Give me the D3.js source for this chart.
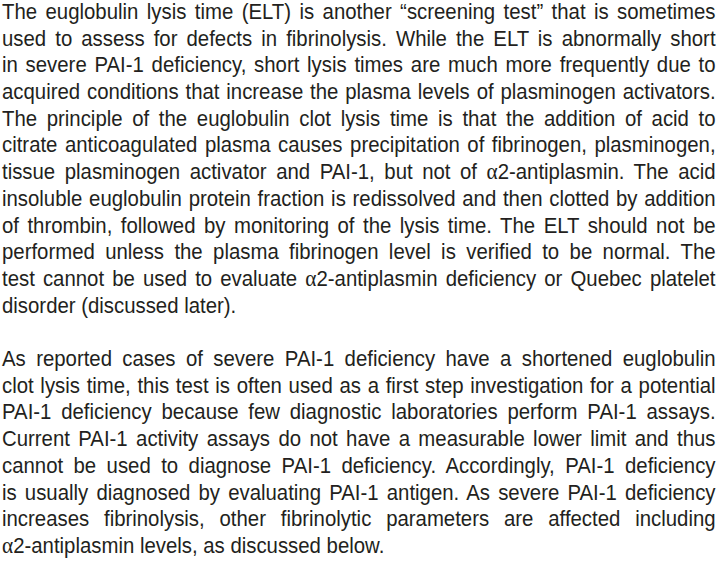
<!DOCTYPE html>
<html>
<head>
<meta charset="utf-8">
<script src="https://cdn.jsdelivr.net/npm/d3@7"></script>
<style>
  body { margin: 0; background: #fff; }
  svg { display: block; }
</style>
</head>
<body>
<script>
const width = 722, height = 565

// lines as broken in the original, one array per paragraph
const para1 = [
  'The euglobulin lysis time (ELT) is another \u201cscreening test\u201d that is sometimes',
  'used to assess for defects in fibrinolysis. While the ELT is abnormally short',
  'in severe PAI-1 deficiency, short lysis times are much more frequently due to',
  'acquired conditions that increase the plasma levels of plasminogen activators.',
  'The principle of the euglobulin clot lysis time is that the addition of acid to',
  'citrate anticoagulated plasma causes precipitation of fibrinogen, plasminogen,',
  'tissue plasminogen activator and PAI-1, but not of \u03b12-antiplasmin. The acid',
  'insoluble euglobulin protein fraction is redissolved and then clotted by addition',
  'of thrombin, followed by monitoring of the lysis time. The ELT should not be',
  'performed unless the plasma fibrinogen level is verified to be normal. The',
  'test cannot be used to evaluate \u03b12-antiplasmin deficiency or Quebec platelet',
  'disorder (discussed later).'
]
const para2 = [
  'As reported cases of severe PAI-1 deficiency have a shortened euglobulin',
  'clot lysis time, this test is often used as a first step investigation for a potential',
  'PAI-1 deficiency because few diagnostic laboratories perform PAI-1 assays.',
  'Current PAI-1 activity assays do not have a measurable lower limit and thus',
  'cannot be used to diagnose PAI-1 deficiency. Accordingly, PAI-1 deficiency',
  'is usually diagnosed by evaluating PAI-1 antigen. As severe PAI-1 deficiency',
  'increases fibrinolysis, other fibrinolytic parameters are affected including',
  '\u03b12-antiplasmin levels, as discussed below.'
]
const paragraphs = [para1, para2]

// flatten into rows with a slot index (one blank slot between paragraphs)
let rows = [], slot = 0
paragraphs.forEach(p => {
  p.forEach((txt, i) => {
    rows.push({txt, slot, last: i === p.length - 1})
    slot++
  })
  slot++
})

const y = d3.scaleLinear().domain([0, slot - 2]).range([19, 553])
const x = d3.scaleLinear().domain([0, 1]).range([2, 716])
const lineWidth = x(1) - x(0)

const svg = d3.select('body').append('svg')
  .attr('width', width)
  .attr('height', height)

// no narrow face installed, so the regular face gets squeezed horizontally
const textGroup = svg.append('g')
  .attr('font-family', '"Liberation Sans", Arial, sans-serif')
  .attr('font-size', 22)
  .attr('fill', '#231f20')

const lines = textGroup.selectAll('text.line').data(rows)
  .enter().append('text')
  .attr('class', 'line')
  .attr('x', 0)
  .attr('y', d => y(d.slot))

// split on alpha so it can be set in a serif face like the original
lines.each(function(d) {
  const t = d3.select(this)
  d.txt.split('\u03b1').forEach((part, i) => {
    if (i > 0) t.append('tspan')
      .attr('font-family', '"Liberation Serif", "DejaVu Serif", serif')
      .attr('font-size', 23)
      .text('\u03b1')
    if (part) t.append('tspan').text(part)
  })
  d.natural = this.getComputedTextLength()
})

// squeeze so the tightest line still fits with normal spacing
const k = d3.min(rows.filter(d => !d.last), d => lineWidth / d.natural) * 0.985
textGroup.attr('transform', `translate(${x(0)},0) scale(${k},1)`)

// justify: spread the leftover width over the word gaps
lines.filter(d => !d.last).each(function(d) {
  const gaps = (d.txt.match(/ /g) || []).length
  if (!gaps) return
  const extra = (lineWidth / k - d.natural) / gaps
  d3.select(this).style('word-spacing', extra + 'px')
})
</script>
</body>
</html>
